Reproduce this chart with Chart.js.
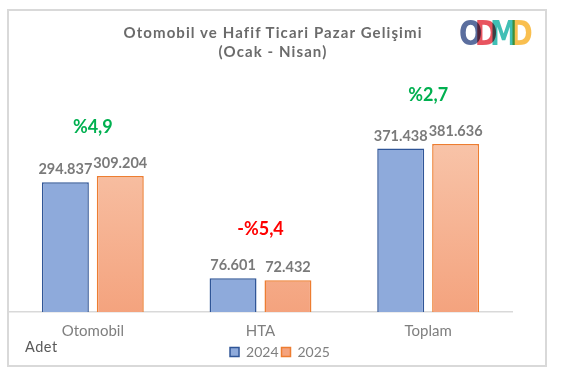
<!DOCTYPE html>
<html>
<head>
<meta charset="utf-8">
<script src="https://cdn.jsdelivr.net/npm/chart.js@4/dist/chart.umd.min.js"></script>
<style>
  body { margin: 0; background: #fff; font-family: "Century Gothic", Lato, sans-serif; }
  #wrap { position: relative; width: 571px; height: 376px; }
  #frame { position: absolute; left: 7px; top: 9px; width: 536px; height: 354px; border: 2px solid #d9d9d9; }
  #chart { position: absolute; left: 0; top: 0; }
  #title { position: absolute; left: 93px; width: 360px; top: 23px; text-align: center;
           color: #6b6b6b; font-weight: bold; font-size: 15px; line-height: 19px; letter-spacing: 1.1px; }
  #adet { position: absolute; left: 25px; top: 338px; color: #595959; font-size: 14.5px; letter-spacing: 0.5px; }
  #logo { position: absolute; left: 459px; top: 14px; font-weight: 900; font-size: 33px;
          font-family: "DejaVu Sans", sans-serif; letter-spacing: -9px;
          transform: scaleX(0.83); transform-origin: left top; }
  #logo span { mix-blend-mode: multiply; }
</style>
</head>
<body>
<div id="wrap">
  <div id="frame"></div>
  <canvas id="chart" width="571" height="376"></canvas>
  <div id="title">Otomobil ve Hafif Ticari Pazar Gelişimi<br>(Ocak - Nisan)</div>
  <div id="logo"><span style="color:#5b6e9e">O</span><span style="color:#e8545f">D</span><span style="color:#40bfb5">M</span><span style="color:#f9bf4f">D</span></div>
  <div id="adet">Adet</div>
</div>
<script>
// Otomobil ve HTA pazarı, Ocak - Nisan
const categories = ['Otomobil', 'HTA', 'Toplam'];
const sales2024 = [294837, 76601, 371438];
const sales2025 = [309204, 72432, 381636];
const changeLabels = ['%4,9', '-%5,4', '%2,7'];
const changeColors = ['#00b050', '#ff0000', '#00b050'];

function formatTr(v) {
    return String(v).replace(/\B(?=(\d{3})+(?!\d))/g, '.');
}

// bar values and change labels above each group
const labelPlugin = {
    id: 'labels',
    afterDatasetsDraw(chart) {
        const ctx = chart.ctx;
        ctx.save();
        ctx.textAlign = 'center';
        ctx.textBaseline = 'alphabetic';
        ctx.font = 'bold 14.5px Lato, sans-serif';
        ctx.fillStyle = '#7a7a7a';
        chart.data.datasets.forEach((ds, di) => {
            chart.getDatasetMeta(di).data.forEach((bar, i) => {
                ctx.fillText(formatTr(ds.data[i]), bar.x, bar.y - 8);
            });
        });
        ctx.font = 'bold 18px Lato, sans-serif';
        categories.forEach((c, i) => {
            const x = chart.scales.x.getPixelForValue(i);
            const top = Math.min(chart.getDatasetMeta(0).data[i].y, chart.getDatasetMeta(1).data[i].y);
            ctx.fillStyle = changeColors[i];
            ctx.fillText(changeLabels[i], x, top - 43);
        });
        ctx.restore();
    }
};

const ctx = document.getElementById('chart').getContext('2d');
new Chart(ctx, {
    type: 'bar',
    data: {
        labels: categories,
        datasets: [
            {
                label: '2024',
                data: sales2024,
                backgroundColor: '#8eaadb',
                borderColor: '#2f5597',
                borderWidth: 1.5
            },
            {
                label: '2025',
                data: sales2025,
                backgroundColor: (c) => {
                    const area = c.chart.chartArea;
                    if (!area) return '#f6b89a';
                    const g = c.chart.ctx.createLinearGradient(0, area.top + 70, 0, area.bottom);
                    g.addColorStop(0, '#f8c4a9');
                    g.addColorStop(1, '#f4a37e');
                    return g;
                },
                borderColor: '#ed7d31',
                borderWidth: 1.5
            }
        ]
    },
    options: {
        responsive: false,
        animation: false,
        layout: { padding: { left: 9, right: 20, top: 70, bottom: 7 } },
        datasets: { bar: { categoryPercentage: 0.655, barPercentage: 0.855 } },
        plugins: {
            legend: {
                position: 'bottom',
                labels: {
                    boxWidth: 9, boxHeight: 9, padding: 3,
                    color: '#7f7f7f',
                    font: { size: 14, family: 'Lato, sans-serif' }
                }
            },
            tooltip: { enabled: false }
        },
        scales: {
            x: {
                grid: { display: false },
                border: { display: true, color: '#d9d9d9', width: 1.5 },
                ticks: { color: '#7f7f7f', padding: 2, font: { size: 15, family: 'Lato, sans-serif' } }
            },
            y: {
                position: 'right',
                min: 0, max: 550000,
                grid: { display: false },
                border: { display: false },
                ticks: { display: false },
                afterFit: (s) => { s.width = 39; }
            }
        }
    },
    plugins: [labelPlugin]
});
</script>
</body>
</html>
